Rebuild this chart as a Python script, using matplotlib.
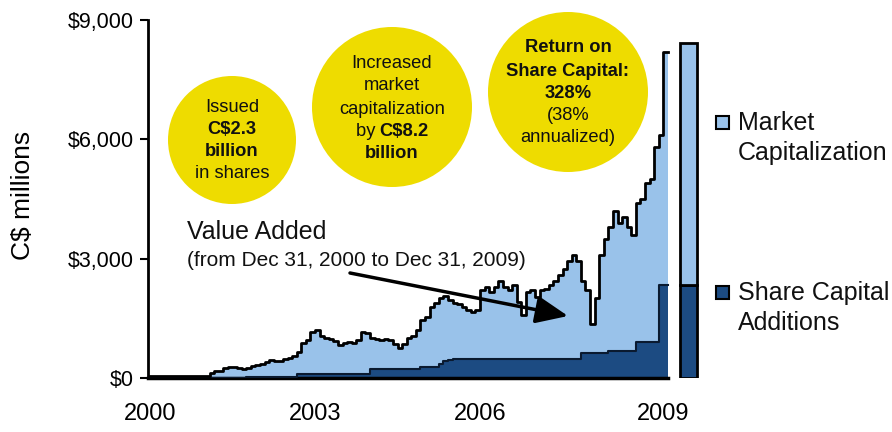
import matplotlib
matplotlib.use("Agg")
import matplotlib.pyplot as plt
from matplotlib.patches import Circle, Rectangle
import numpy as np

plt.rcParams['font.family'] = ['Liberation Sans', 'DejaVu Sans']

# ---------------- data ----------------
# monthly index (0 = start of 2000)
market_cap = [50, 50, 50, 50, 50, 50, 50, 50, 40, 40, 40, 40, 40, 40,
              130, 170, 180, 250, 280, 270, 240, 230, 260, 300, 330, 350, 400, 450,
              420, 430, 470, 500, 560, 650, 880, 950,
              1150, 1200, 1050, 1000, 980, 920, 830, 880, 900, 880, 950, 1150,
              1120, 1000, 980, 960, 970, 960, 860, 760, 850, 1000, 1050, 1200,
              1460, 1530, 1780, 1880, 2000, 2050, 1950, 1880, 1850, 1780, 1700, 1650,
              1700, 2200, 2280, 2150, 2300, 2450, 2300, 2210, 2350, 1900, 1580, 2150,
              2200, 2040, 2200, 2250, 2350, 2450, 2600, 2750, 2950, 3080, 2950, 2450,
              2200, 1350, 2000, 3100, 3500, 3800, 4200, 3900, 4050, 3800, 3600, 4400,
              4500, 4900, 5000, 5800, 6100, 8200]
share_capital = [0, 0, 0, 0, 0, 0, 0, 0, 0, 0, 0, 0, 0, 0, 0, 0, 0, 0, 0, 0, 0, 0,
                 30, 30, 30, 30, 30, 30, 30, 30, 30, 30, 30,
                 100, 100, 100, 100,
                 110, 110, 110, 110, 110, 110, 110, 110, 110, 110, 110, 110,
                 230, 230, 230, 230, 230, 230, 230, 230, 230, 230, 230,
                 280, 280, 280, 280,
                 350, 420, 460,
                 470, 470, 470, 470, 470, 470, 470, 470, 470, 470, 470, 470, 470, 470,
                 470, 470, 470, 470, 470, 470, 470, 470, 470, 470, 470, 470, 470, 470,
                 630, 630, 630, 630, 630, 630,
                 680, 680, 680, 680, 680, 680,
                 900, 900, 900, 900, 900,
                 2350, 2350]
bar_values = [2350, 8420]          # share capital, total market cap (summary bar)
year_labels = ['2000', '2003', '2006', '2009']
year_positions = [0, 36, 72, 112]
ytick_values = [0, 3000, 6000, 9000]
ytick_labels = ['$0', '$3,000', '$6,000', '$9,000']
legend_labels = [['Market', 'Capitalization'], ['Share Capital', 'Additions']]

LIGHT = '#99C2EA'
DARK = '#1C4B82'
YELLOW = '#EEDC00'

W, H = 892, 432
fig = plt.figure(figsize=(W / 100, H / 100), dpi=100)

def fx(px):
    return px / W

def fy(py):
    return 1 - py / H

# main axes : left spine at px 148, y0 at px 378, y9000 at px 20, right px 700
ax = fig.add_axes([fx(148), fy(378), fx(700) - fx(148), fy(20) - fy(378)])
months = np.arange(len(market_cap))
mc = np.array(market_cap, dtype=float)
sc = np.array(share_capital, dtype=float)

ax.fill_between(months, 0, mc, step='pre', color=LIGHT, lw=0, zorder=1)
ax.fill_between(months, 0, sc, step='pre', color=DARK, lw=0, zorder=2)
ax.plot(months, sc, drawstyle='steps-pre', color='#0a1a30', lw=1.5, zorder=3)
ax.plot(months, mc, drawstyle='steps-pre', color='black', lw=2.0, zorder=4)

# summary bar
bar_x = 117.5
ax.bar([bar_x], [bar_values[0]], width=3.7, color=DARK, edgecolor='black', lw=2, zorder=3)
ax.bar([bar_x], [bar_values[1] - bar_values[0]], bottom=[bar_values[0]], width=3.7,
       color=LIGHT, edgecolor='black', lw=2, zorder=3)

ax.set_xlim(-0.44, 120)
ax.set_ylim(0, 9000)
for s in ['top', 'right']:
    ax.spines[s].set_visible(False)
ax.spines['left'].set_linewidth(2)
ax.spines['bottom'].set_linewidth(2.5)
ax.spines['bottom'].set_bounds(-0.44, 113)
ax.set_yticks(ytick_values)
ax.set_yticklabels(ytick_labels)
ax.tick_params(axis='y', direction='out', length=6, width=1.5, labelsize=15.5, pad=4)
ax.set_xticks(year_positions)
ax.set_xticklabels(year_labels)
ax.tick_params(axis='x', length=0, labelsize=17, pad=18)
ax.set_ylabel('C$ millions', fontsize=19)
ax.yaxis.set_label_coords((35 - 148) / 552, (378 - 195) / 358)
ax.patch.set_alpha(0)

# overlay in pixel coordinates
ov = fig.add_axes([0, 0, 1, 1])
ov.set_xlim(0, W)
ov.set_ylim(H, 0)
ov.axis('off')
ov.patch.set_alpha(0)

circles = [(232, 140, 64), (392, 107, 80), (568, 92, 80)]
for cx, cy, r in circles:
    ov.add_patch(Circle((cx, cy), r, color=YELLOW, lw=0))

fs_c = 13.2
def ctext(x, y, s, bold=False, ha='center'):
    ov.text(x, y, s, ha=ha, va='center', fontsize=fs_c,
            fontweight='bold' if bold else 'normal', color='#111111')

# circle 1
ctext(232, 107, 'Issued')
ctext(232, 130, 'C$2.3', True)
ctext(232, 152, 'billion', True)
ctext(232, 174, 'in shares')
# circle 2
ctext(392, 63, 'Increased')
ctext(392, 86, 'market')
ctext(392, 109, 'capitalization')
ctext(381, 131, 'by ', ha='right')
ctext(379, 131, 'C$8.2', True, ha='left')
ctext(392, 154, 'billion', True)
# circle 3
ctext(568, 48, 'Return on', True)
ctext(568, 71, 'Share Capital:', True)
ctext(568, 93, '328%', True)
ctext(568, 115, '(38%')
ctext(568, 138, 'annualized)')

# value added annotation
ov.text(187, 232, 'Value Added', ha='left', va='center', fontsize=18, color='#111111')
ov.text(187, 260, '(from Dec 31, 2000 to Dec 31, 2009)', ha='left', va='center',
        fontsize=15, color='#111111')
ov.annotate('', xy=(568, 316), xytext=(350, 273),
            arrowprops=dict(arrowstyle='-|>,head_length=1.4,head_width=0.6',
                            lw=2.5, color='black', mutation_scale=14,
                            shrinkA=0, shrinkB=0))

# legend
legend_colors = [LIGHT, DARK]
legend_y = [123, 293]
for col, y0, lines in zip(legend_colors, legend_y, legend_labels):
    ov.add_patch(Rectangle((716, y0 - 7), 13, 13, facecolor=col, edgecolor='black', lw=1.5))
    for k, line in enumerate(lines):
        ov.text(738, y0 + 30 * k, line, ha='left', va='center', fontsize=18, color='#111111')

fig.savefig('out.png', dpi=100)
